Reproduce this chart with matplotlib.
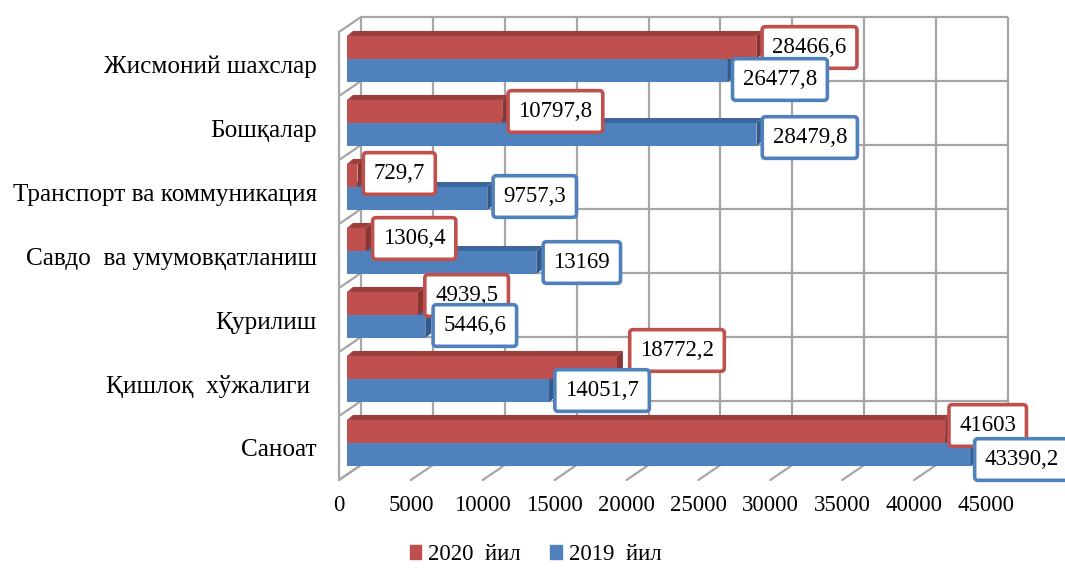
import matplotlib
matplotlib.use('Agg')
import matplotlib.pyplot as plt
from matplotlib.patches import Polygon, Patch, ConnectionPatch
from matplotlib.transforms import IdentityTransform
import numpy as np

plt.rcParams['font.family'] = ['Liberation Serif', 'DejaVu Serif']

# ---------------- data ----------------
categories = ['Саноат', 'Қишлоқ  хўжалиги ', 'Қурилиш', 'Савдо  ва умумовқатланиш',
              'Транспорт ва коммуникация', 'Бошқалар', 'Жисмоний шахслар']
values_2020 = [41603, 18772.2, 4939.5, 1306.4, 729.7, 10797.8, 28466.6]
values_2019 = [43390.2, 14051.7, 5446.6, 13169, 9757.3, 28479.8, 26477.8]
series_labels = ['2020  йил', '2019  йил']
xticks = [0, 5000, 10000, 15000, 20000, 25000, 30000, 35000, 40000, 45000]

# ---------------- style / layout ----------------
RED, BLUE = '#C0504D', '#4F81BD'
RED_TOP, RED_END = '#9C3E3B', '#8A3533'
BLUE_TOP, BLUE_END = '#3C679B', '#335A8A'
GRID = '#A6A6A6'
W, H = 1065, 568
XMAX = 45000
# label offsets in pixels (dx from bar end, dy down from bar centre)
red_dx = [2, 11, 5, 5, 4, 4, 4]
red_dy = [-6, -17, -8, -1, -2, 0, 0]
blue_dx = [2, 4, 6, 5, 4, 4, 3]
blue_dy = [5, 0, -1, 0, -2, 3, 9]

fig = plt.figure(figsize=(W / 100, H / 100), dpi=100)


def rect(l, t, w, h):
    return [l / W, 1 - (t + h) / H, w / W, h / H]


BAR = (347, 27, 647, 448)
BACK = (361, 17, 647, 448)
FRONT = (339, 32, 647, 448)

ylim = (-0.5, len(categories) - 0.5)

# back wall
ax_back = fig.add_axes(rect(*BACK))
ax_back.set_zorder(0)
ax_back.set_xlim(0, XMAX)
ax_back.set_ylim(*ylim)
ax_back.axis('off')
for x in xticks:
    ax_back.plot([x, x], list(ylim), color=GRID, lw=1.6, clip_on=False, solid_capstyle='butt')
bounds = np.arange(ylim[0], ylim[1] + 0.01, 1.0)
for b in bounds:
    ax_back.plot([0, XMAX], [b, b], color=GRID, lw=1.6, clip_on=False, solid_capstyle='butt')

# front plane (labels + left wall edge)
ax_front = fig.add_axes(rect(*FRONT))
ax_front.set_zorder(1)
ax_front.patch.set_visible(False)
ax_front.set_xlim(0, XMAX)
ax_front.set_ylim(*ylim)
for s in ax_front.spines.values():
    s.set_visible(False)
ax_front.set_xticks(xticks)
ax_front.set_xticklabels([str(t) for t in xticks], fontsize=16.5)
ax_front.set_yticks(range(len(categories)))
ax_front.set_yticklabels(categories, fontsize=18.2)
ax_front.tick_params(axis='x', length=0, pad=11)
ax_front.tick_params(axis='y', length=0, pad=16)
ax_front.plot([0, 0], list(ylim), color=GRID, lw=1.6, clip_on=False)

# left wall and floor connectors
for b in bounds:
    con = ConnectionPatch(xyA=(0, b), coordsA=ax_front.transData,
                          xyB=(0, b), coordsB=ax_back.transData,
                          color=GRID, lw=1.6)
    ax_back.add_artist(con)
for x in xticks:
    con = ConnectionPatch(xyA=(x, ylim[0]), coordsA=ax_front.transData,
                          xyB=(x, ylim[0]), coordsB=ax_back.transData,
                          color=GRID, lw=1.6)
    ax_back.add_artist(con)

# bars
ax = fig.add_axes(rect(*BAR))
ax.set_zorder(2)
ax.patch.set_visible(False)
ax.set_xlim(0, XMAX)
ax.set_ylim(*ylim)
ax.axis('off')

y = np.arange(len(categories))
bh = 0.36
blue_bars = ax.barh(y - bh / 2, values_2019, height=bh, color=BLUE, zorder=2)
red_bars = ax.barh(y + bh / 2, values_2020, height=bh, color=RED, zorder=3)

DX, DY = 6, 5  # depth in pixels
fig.canvas.draw()


def add_faces(bars, top_c, end_c, z):
    for r in bars:
        x0, y0 = r.get_x(), r.get_y()
        x1, y1 = x0 + r.get_width(), y0 + r.get_height()
        (X0, Y0), (X1, Y1) = ax.transData.transform([(x0, y0), (x1, y1)])
        top = [(X0, Y1), (X1, Y1), (X1 + DX, Y1 + DY), (X0 + DX, Y1 + DY)]
        end = [(X1, Y0), (X1, Y1), (X1 + DX, Y1 + DY), (X1 + DX, Y0 + DY)]
        ax.add_patch(Polygon(top, closed=True, fc=top_c, ec='none',
                             transform=IdentityTransform(), zorder=z, clip_on=False))
        ax.add_patch(Polygon(end, closed=True, fc=end_c, ec='none',
                             transform=IdentityTransform(), zorder=z, clip_on=False))


add_faces(blue_bars, BLUE_TOP, BLUE_END, 2)
add_faces(red_bars, RED_TOP, RED_END, 3)


def fmt(v):
    s = f'{v:.1f}'
    if s.endswith('.0'):
        s = s[:-2]
    return s.replace('.', ',')


PX = 100 / 72
LABEL_FS = 16.5
BOX_PAD = 0.45
PAD_PX = BOX_PAD * LABEL_FS * PX + 1.8
for vals, centers, dxs, dys, col in [
        (values_2020, y + bh / 2, red_dx, red_dy, RED),
        (values_2019, y - bh / 2, blue_dx, blue_dy, BLUE)]:
    for v, c, dx, dy in zip(vals, centers, dxs, dys):
        ax.annotate(fmt(v), xy=(v, c), xytext=((dx + PAD_PX) / PX, -dy / PX),
                    textcoords='offset points', ha='left', va='center', fontsize=LABEL_FS,
                    zorder=6, annotation_clip=False,
                    bbox=dict(boxstyle=f'round,pad={BOX_PAD},rounding_size=0.15',
                              fc='white', ec=col, lw=2.6))

fig.legend(handles=[Patch(color=RED), Patch(color=BLUE)], labels=series_labels,
           loc='center', bbox_to_anchor=(535.5 / W, 1 - 555 / H), ncol=2, frameon=False,
           fontsize=16.5, handlelength=0.5, handleheight=0.55, handletextpad=0.3,
           columnspacing=1.3, borderaxespad=0, borderpad=0)

fig.savefig('out.png', dpi=100)
